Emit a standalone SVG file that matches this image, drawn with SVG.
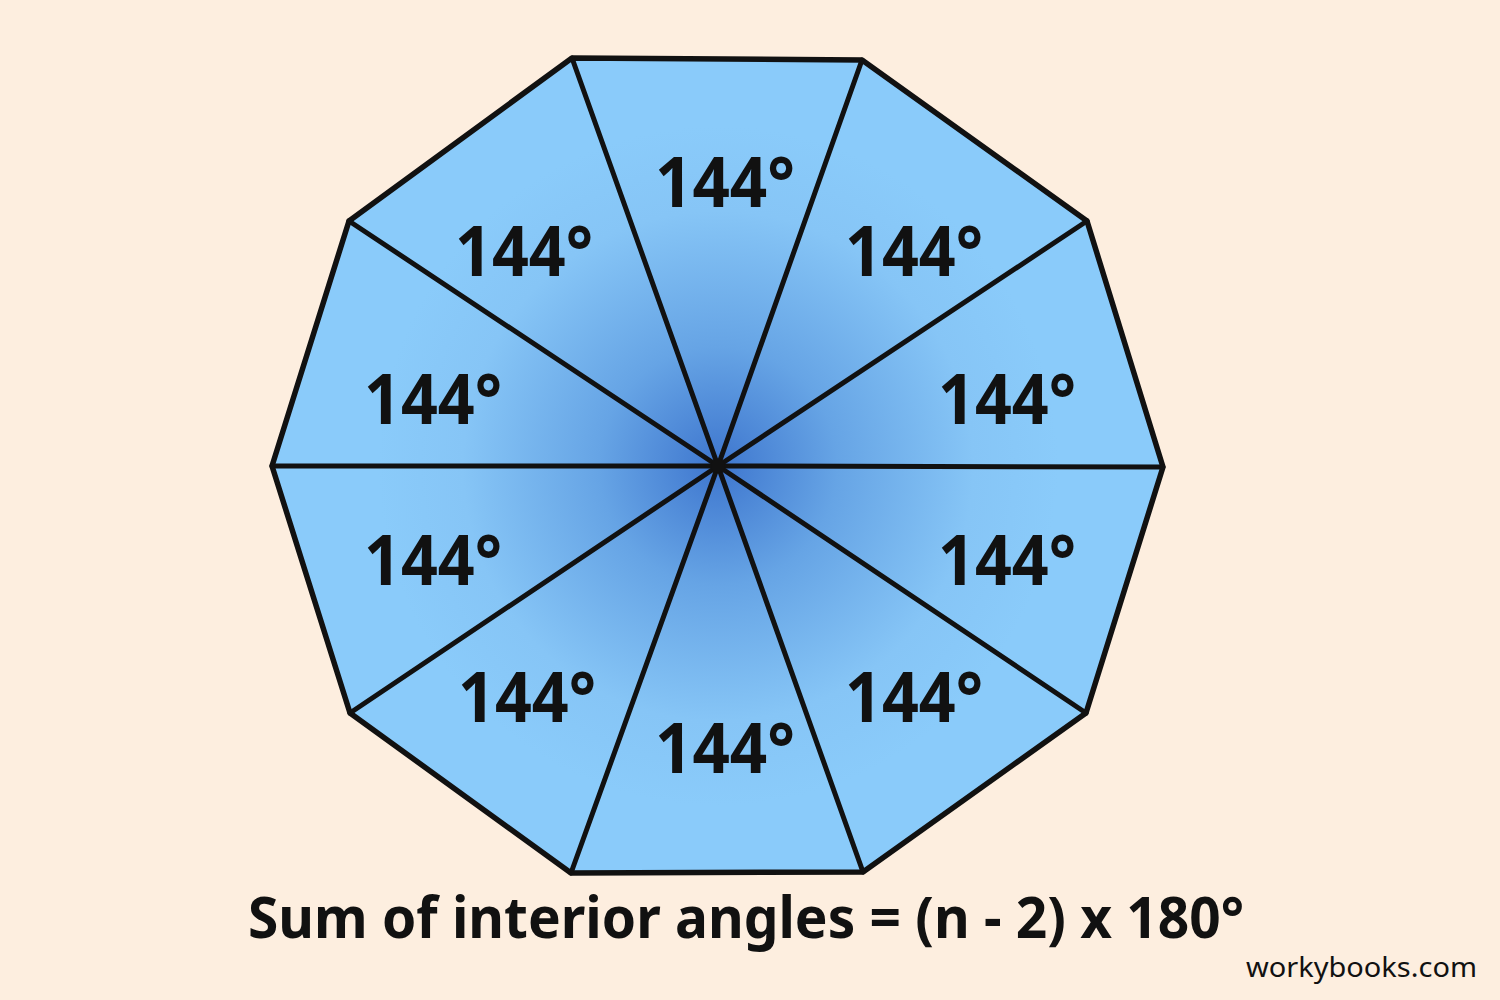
<svg xmlns="http://www.w3.org/2000/svg" width="1500" height="1000" viewBox="0 0 1500 1000">
<defs>
<radialGradient id="g" gradientUnits="userSpaceOnUse" cx="718" cy="466" r="340">
<stop offset="0" stop-color="#3E76CE"/>
<stop offset="0.35" stop-color="#66A4E5"/>
<stop offset="0.75" stop-color="#86C5F6"/>
<stop offset="1" stop-color="#8ACBFA"/>
</radialGradient>
<style>
.lbl{font-family:"Noto Sans","Liberation Sans",sans-serif;font-weight:bold;font-size:70px;fill:#111;}
.sp{stroke:#111;stroke-width:5;fill:none;stroke-linecap:round;}
</style>
</defs>
<rect width="1500" height="1000" fill="#FDEEDF"/>
<g id="decagon">
<polygon points="572,58 862,60 1087,221 1163,467 1086,713 863,872 571,873 350,713 272,466 349,221" fill="url(#g)" stroke="#111" stroke-width="5.5" stroke-linejoin="round"/>
</g>
<g id="spokes">
<line class="sp" x1="718" y1="466" x2="572" y2="58"/>
<line class="sp" x1="718" y1="466" x2="862" y2="60"/>
<line class="sp" x1="718" y1="466" x2="1087" y2="221"/>
<line class="sp" x1="718" y1="466" x2="1163" y2="467"/>
<line class="sp" x1="718" y1="466" x2="1086" y2="713"/>
<line class="sp" x1="718" y1="466" x2="863" y2="872"/>
<line class="sp" x1="718" y1="466" x2="571" y2="873"/>
<line class="sp" x1="718" y1="466" x2="350" y2="713"/>
<line class="sp" x1="718" y1="466" x2="272" y2="466"/>
<line class="sp" x1="718" y1="466" x2="349" y2="221"/>
<circle cx="718" cy="466" r="7" fill="#111"/>
</g>
<g id="labels">
<text class="lbl" x="655" y="207" textLength="140" lengthAdjust="spacingAndGlyphs">144°</text>
<text class="lbl" x="845" y="276" textLength="138" lengthAdjust="spacingAndGlyphs">144°</text>
<text class="lbl" x="938" y="424" textLength="138" lengthAdjust="spacingAndGlyphs">144°</text>
<text class="lbl" x="938" y="585" textLength="138" lengthAdjust="spacingAndGlyphs">144°</text>
<text class="lbl" x="845" y="722" textLength="138" lengthAdjust="spacingAndGlyphs">144°</text>
<text class="lbl" x="655" y="773" textLength="140" lengthAdjust="spacingAndGlyphs">144°</text>
<text class="lbl" x="458" y="722" textLength="138" lengthAdjust="spacingAndGlyphs">144°</text>
<text class="lbl" x="364" y="585" textLength="138" lengthAdjust="spacingAndGlyphs">144°</text>
<text class="lbl" x="364" y="424" textLength="138" lengthAdjust="spacingAndGlyphs">144°</text>
<text class="lbl" x="455" y="276" textLength="138" lengthAdjust="spacingAndGlyphs">144°</text>
</g>
<text x="248" y="938" font-family="'Noto Sans','Liberation Sans',sans-serif" font-weight="bold" font-size="58" fill="#111" textLength="996" lengthAdjust="spacingAndGlyphs">Sum of interior angles = (n - 2) x 180°</text>
<text x="1246" y="977" font-family="'Noto Sans','Liberation Sans',sans-serif" font-size="28" fill="#111" textLength="231" lengthAdjust="spacingAndGlyphs">workybooks.com</text>
</svg>
